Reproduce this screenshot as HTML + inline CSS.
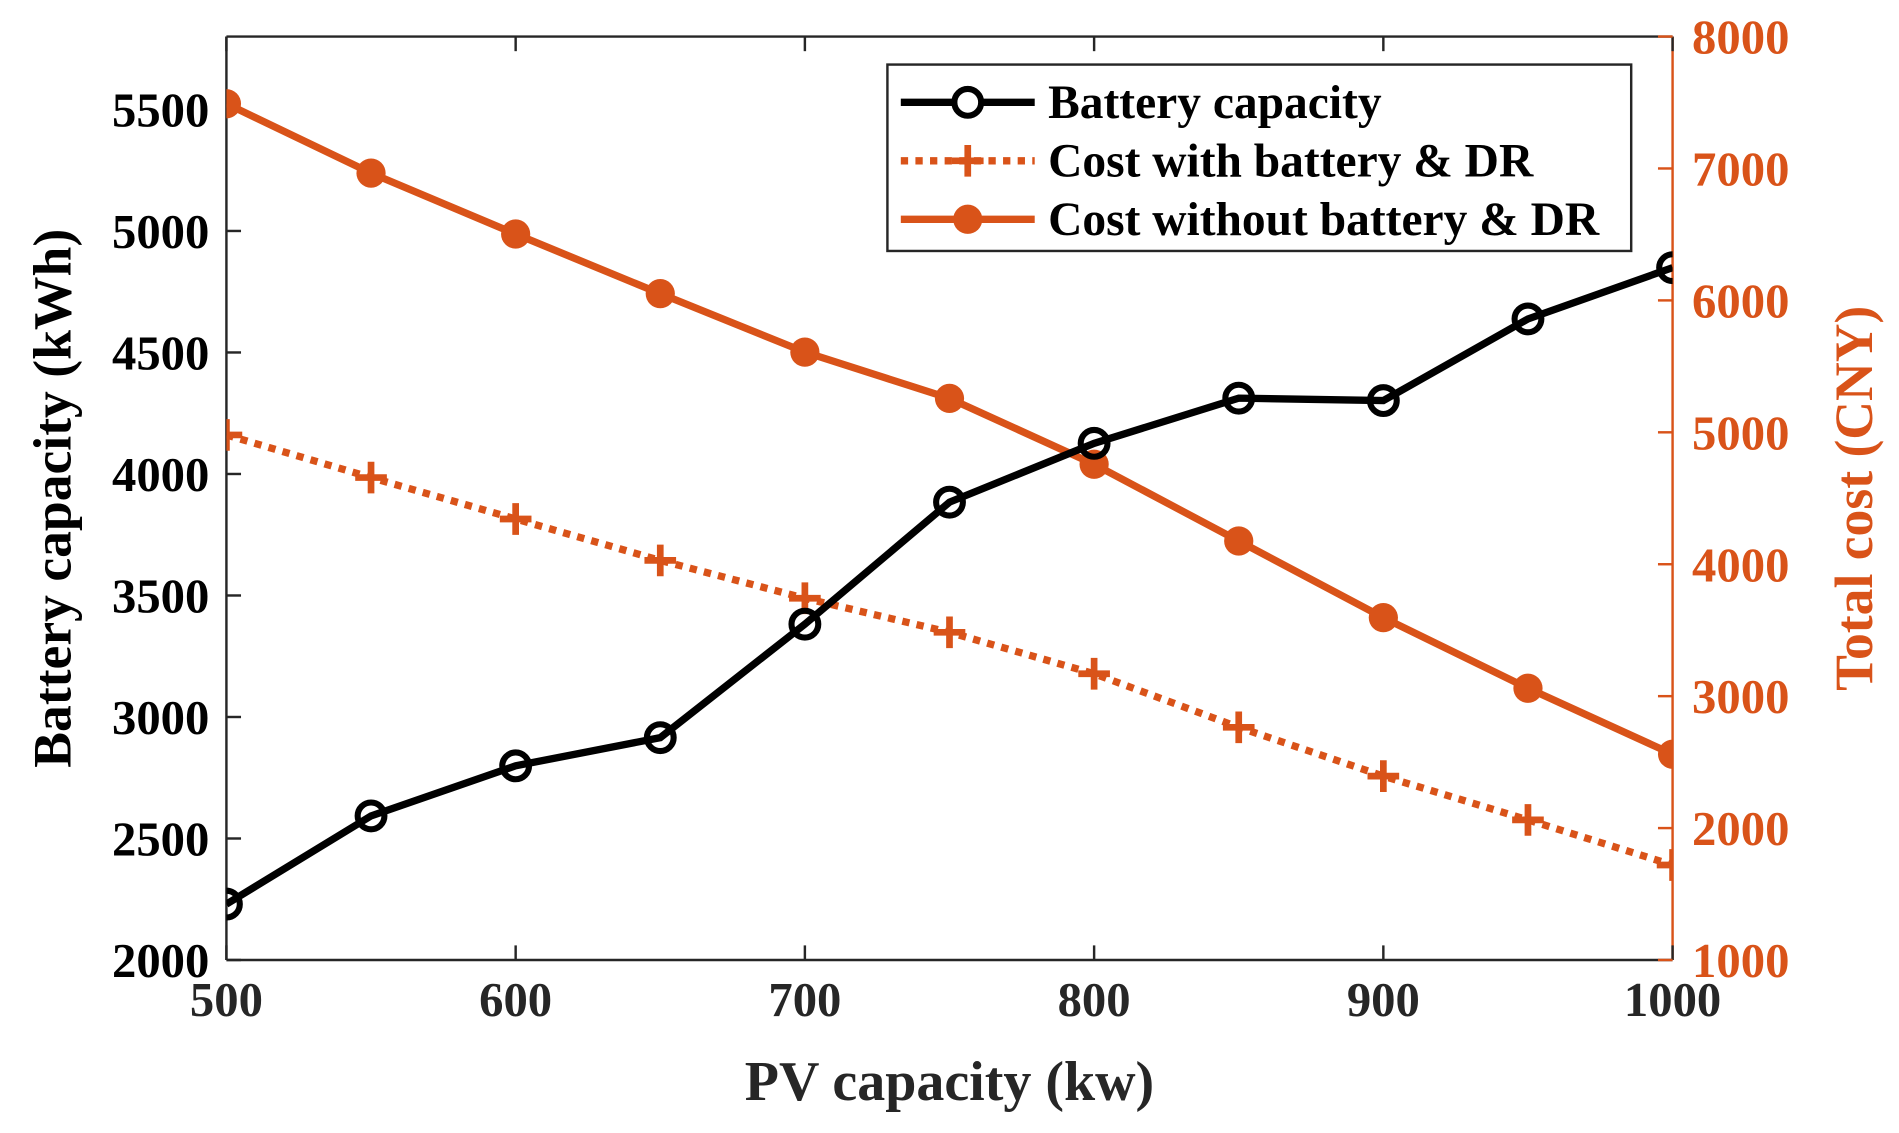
<!DOCTYPE html>
<html><head><meta charset="utf-8"><style>html,body{margin:0;padding:0;background:#fff;overflow:hidden}svg{display:block}text{font-family:"Liberation Serif",serif;font-weight:bold}</style></head>
<body>
<svg id="chart" width="1899" height="1133" viewBox="0 0 1560 930" preserveAspectRatio="none" xmlns="http://www.w3.org/2000/svg"></svg>
<script>
const pvCapacity=[500,550,600,650,700,750,800,850,900,950,1000];
const batteryCapacity=[2230,2593,2799,2915,3382,3884,4126,4312,4302,4638,4849];
const costWith=[4980,4657,4343,4029,3742,3484,3170,2764,2394,2062,1720];
const costWithout=[7491,6965,6503,6051,5608,5257,4758,4176,3595,3060,2560];
const xTicks=[500,600,700,800,900,1000];
const yLeftTicks=[2000,2500,3000,3500,4000,4500,5000,5500];
const yRightTicks=[1000,2000,3000,4000,5000,6000,7000,8000];
const OR='#D95319';
const L=186,R=1374,T=30,B=788;
const sx=v=>L+(v-500)/500*(R-L);
const syL=v=>B-(v-2000)/3800*(B-T);
const syR=v=>B-(v-1000)/7000*(B-T);
const svg=document.getElementById('chart');
const NS='http://www.w3.org/2000/svg';
function el(tag,attrs,parent){const e=document.createElementNS(NS,tag);for(const k in attrs)e.setAttribute(k,attrs[k]);(parent||svg).appendChild(e);return e;}
let g;
g=el('line',{x1:L,y1:T,x2:R,y2:T,stroke:'#262626','stroke-width':2});


g=el('line',{x1:L,y1:T,x2:L,y2:B,stroke:'#262626','stroke-width':2});


g=el('line',{x1:L,y1:B,x2:R,y2:B,stroke:'#262626','stroke-width':2});


g=el('line',{x1:R,y1:T,x2:R,y2:B,stroke:OR,'stroke-width':2});


xTicks.forEach(v=>{
  el('line',{x1:sx(v),y1:B,x2:sx(v),y2:B-12,stroke:'#262626','stroke-width':2});
  el('line',{x1:sx(v),y1:T,x2:sx(v),y2:T+12,stroke:'#262626','stroke-width':2});
  const t=el('text',{x:sx(v),y:B+46,'text-anchor':'middle','font-size':40,fill:'#262626'});t.textContent=v;
  
  
});
yLeftTicks.forEach(v=>{
  el('line',{x1:L,y1:syL(v),x2:L+12,y2:syL(v),stroke:'#262626','stroke-width':2});
  const t=el('text',{x:L-14,y:syL(v)+14,'text-anchor':'end','font-size':40,fill:'#000'});t.textContent=v;
  
  
});
yRightTicks.forEach(v=>{
  el('line',{x1:R,y1:syR(v),x2:R-12,y2:syR(v),stroke:OR,'stroke-width':2});
  const t=el('text',{x:R+16,y:syR(v)+14,'text-anchor':'start','font-size':40,fill:OR});t.textContent=v;
  
  
});
let t=el('text',{x:780,y:903,'text-anchor':'middle','font-size':46,fill:'#262626'});t.textContent='PV capacity (kw)';


t=el('text',{x:0,y:0,'text-anchor':'middle','font-size':44,fill:'#000',transform:'translate(58,409) rotate(-90)'});t.textContent='Battery capacity (kWh)';


t=el('text',{x:0,y:0,'text-anchor':'middle','font-size':44,fill:OR,transform:'translate(1538,409) rotate(-90)'});t.textContent='Total cost (CNY)';


const clip=el('clipPath',{id:'pc'});el('rect',{x:L,y:T,width:R-L,height:B-T},clip);
function path(vals,sy,attrs,name){
  const d=vals.map((v,i)=>(i?'L':'M')+sx(pvCapacity[i])+','+sy(v)).join('');
  const p=el('path',Object.assign({d:d,fill:'none','clip-path':'url(#pc)'},attrs));
  
  
}
path(costWithout,syR,{stroke:OR,'stroke-width':6},'cost-without-line');
costWithout.forEach((v,i)=>{const c=el('circle',{cx:sx(pvCapacity[i]),cy:syR(v),r:12,fill:OR,'clip-path':'url(#pc)'});
  
  });
path(costWith,syR,{stroke:OR,'stroke-width':6,'stroke-dasharray':'6 6'},'cost-with-line');
costWith.forEach((v,i)=>{const x=sx(pvCapacity[i]),y=syR(v);
  const c=el('path',{d:`M${x-13},${y}H${x+13}M${x},${y-13}V${y+13}`,stroke:OR,'stroke-width':5.5,'clip-path':'url(#pc)'});
  
  });
path(batteryCapacity,syL,{stroke:'#000','stroke-width':6},'battery-capacity-line');
batteryCapacity.forEach((v,i)=>{const c=el('circle',{cx:sx(pvCapacity[i]),cy:syL(v),r:11,fill:'none',stroke:'#000','stroke-width':5,'clip-path':'url(#pc)'});
  
  });
const lg=el('g',{});


el('rect',{x:729,y:53,width:611,height:153,fill:'#fff',stroke:'#262626','stroke-width':2},lg);
const items=[['Battery capacity','#000','',0],['Cost with battery & DR',OR,'6 6',1],['Cost without battery & DR',OR,'',2]];
items.forEach((it,k)=>{const y=84+k*48;
  const e=el('g',{},lg);
  
  
  el('line',{x1:740,y1:y,x2:850,y2:y,stroke:it[1],'stroke-width':6,'stroke-dasharray':it[2]||'none'},e);
  if(k==0)el('circle',{cx:795,cy:y,r:11,fill:'#fff',stroke:'#000','stroke-width':5},e);
  if(k==1)el('path',{d:`M782,${y}H808M795,${y-13}V${y+13}`,stroke:OR,'stroke-width':5.5},e);
  if(k==2)el('circle',{cx:795,cy:y,r:12,fill:OR},e);
  const tx=el('text',{x:861,y:y+13,'font-size':39,fill:'#000'},e);tx.textContent=it[0];
});
</script>
</body></html>
